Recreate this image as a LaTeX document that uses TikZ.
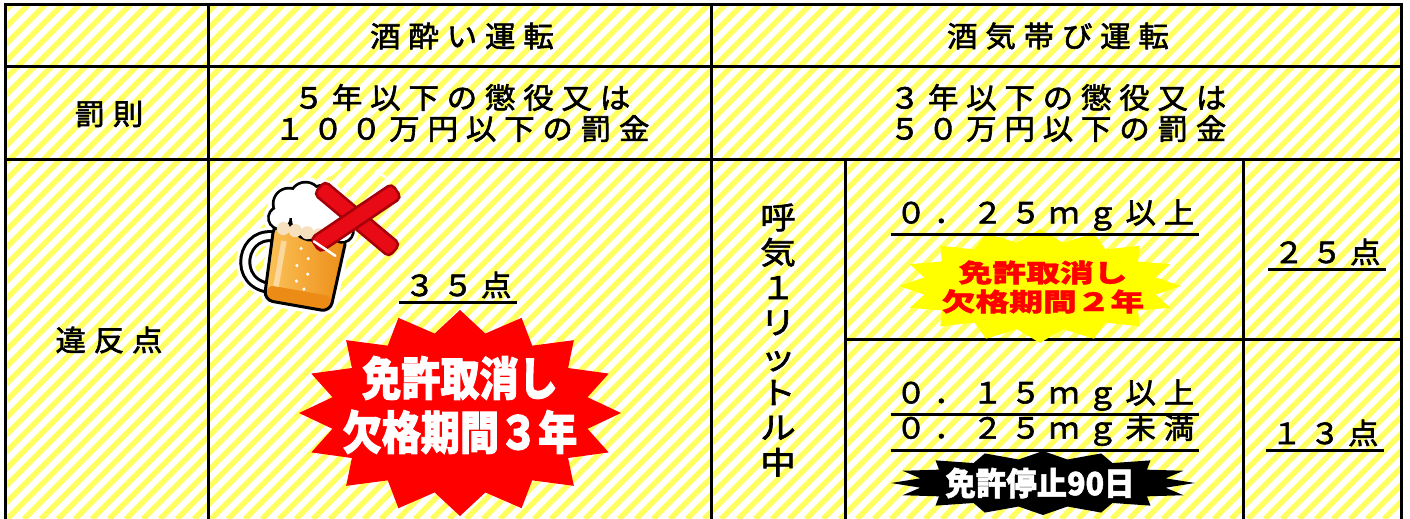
\documentclass[tikz,border=0pt]{standalone}
\usepackage{fontspec}
\setmainfont{Noto Sans CJK JP}
\newfontfamily\cellfont{Noto Sans CJK JP}[FakeStretch=1.05,LetterSpace=27,FakeBold=2]
\newfontfamily\breathfont{Noto Sans CJK JP}[FakeStretch=1.15,FakeBold=2]
\newfontfamily\tallfont{Noto Sans CJK JP}[FakeStretch=0.85,FakeBold=2]
\newfontfamily\widefont{Noto Sans CJK JP}[FakeStretch=1.35,FakeBold=1.5]
\newfontfamily\plainfont{Noto Sans CJK JP}[FakeStretch=0.95,FakeBold=1.5]
\usetikzlibrary{calc}

\definecolor{stripeyellow}{RGB}{255,255,95}
\definecolor{burstred}{RGB}{255,0,0}
\definecolor{burstyellow}{RGB}{255,255,0}
\definecolor{crossred}{RGB}{232,10,20}
\definecolor{crossdark}{RGB}{165,0,10}
\definecolor{beerlight}{RGB}{252,196,90}
\definecolor{beerdark}{RGB}{236,140,22}
\definecolor{foamcream}{RGB}{246,224,190}

% starburst: centre, outer rx, outer ry, inner rx, inner ry, points, style
\newcommand{\burst}[7]{%
  \fill[#7] ($#1+(0:#2pt and #3pt)$)
    \foreach \k in {1,...,#6} {
      -- ($#1+({(\k-0.5)*360/#6}:#4pt and #5pt)$)
      -- ($#1+({\k*360/#6}:#2pt and #3pt)$)
    } -- cycle;
}

\tikzset{
  tableline/.style={line width=3pt, line cap=rect},
  stripe/.style={stripeyellow, line width=5.5pt},
  celltext/.style={font=\cellfont\fontsize{29}{31}\selectfont, align=center, inner sep=0pt},
  ulinetext/.style={celltext, inner xsep=5pt, inner ysep=4pt},
  uline/.style={line width=3pt},
  breathtext/.style={font=\breathfont\fontsize{31}{35}\selectfont, align=center, inner sep=0pt},
  redbursttext/.style={font=\tallfont\bfseries\fontsize{46}{54}\selectfont, white, align=center, inner sep=0pt},
  yellowbursttext/.style={font=\widefont\bfseries\fontsize{25}{29}\selectfont, burstred, align=center, inner sep=0pt},
  blackbursttext/.style={font=\plainfont\bfseries\fontsize{32}{36}\selectfont, white, inner sep=0pt},
  xbar/.style={draw=crossdark, fill=crossred, line width=2.5pt, rounded corners=5pt,
    minimum width=98pt, minimum height=17pt, inner sep=0pt},
  xshine/.style={white, line width=2.5pt, line cap=round},
}

\begin{document}
\begin{tikzpicture}[x=1pt, y=-1pt]
  \useasboundingbox (0,0) rectangle (1410,519);
  \fill[white] (0,0) rectangle (1410,519);

  % striped background
  \begin{scope}
    \clip (5,5) rectangle (1401,519);
    \foreach \k in {-520,-503,...,1410}
      \draw[stripe] (\k,519) -- (\k+514,5);
  \end{scope}

  % table
  \draw[tableline] (5,519) -- (5,5) -- (1401,5) -- (1401,519);
  \draw[tableline] (208,5) -- (208,519);
  \draw[tableline] (711,5) -- (711,519);
  \draw[tableline] (5,67) -- (1401,67);
  \draw[tableline] (5,159) -- (1401,159);
  \draw[tableline] (845,159) -- (845,519);
  \draw[tableline] (1243,159) -- (1243,519);
  \draw[tableline] (845,339) -- (1401,339);

  % headers
  \node[celltext] (drunk) at (462,36) {酒酔い運転};
  \node[celltext] (tipsy) at (1058,36) {酒気帯び運転};
  \node[celltext] (penalty) at (109,114) {罰則};
  \node[celltext] (penaltydrunk) at (462,113) {５年以下の懲役又は\\１００万円以下の罰金};
  \node[celltext] (penaltytipsy) at (1058,113) {３年以下の懲役又は\\５０万円以下の罰金};
  \node[celltext] (points) at (109,340) {違反点};

  % beer mug
  \begin{scope}[shift={(296,252)}, rotate=-10, scale=1.1]
    \draw[white, line width=18pt] (-16,-10) .. controls (-54,-16) and (-54,42) .. (-14,36);
    \draw[white, line width=10pt, rounded corners=9pt] (-24,-22) -- (-21,48) -- (40,48) -- (43,-22) -- cycle;
    \foreach \c/\r in {(-14,-42)/13, (0,-50)/13, (16,-50)/13, (30,-40)/13, (-20,-28)/9, (38,-26)/9, (9,-32)/18}
      \fill[white] \c circle[radius=\r+6];
    \draw[black, line width=12pt] (-16,-10) .. controls (-54,-16) and (-54,42) .. (-14,36);
    \draw[white, line width=6pt] (-16,-10) .. controls (-54,-16) and (-54,42) .. (-14,36);
    \shade[left color=beerlight, right color=beerdark, rounded corners=9pt] (-24,-22) -- (-21,48) -- (40,48) -- (43,-22) -- cycle;
    \fill[beerdark, rounded corners=6pt] (-20,34) rectangle (39,47);
    \draw[black, line width=3pt, rounded corners=9pt] (-24,-22) -- (-21,48) -- (40,48) -- (43,-22) -- cycle;
    \fill[white, opacity=.45] (-15,-8) rectangle (-10,34);
    \foreach \p in {(4,-4),(12,4),(3,12),(14,18),(5,26),(13,32)}
      \fill[white] \p circle (1.6pt);
    \foreach \c/\r in {(-14,-42)/13, (0,-50)/13, (16,-50)/13, (30,-40)/13, (-20,-28)/9, (38,-26)/9, (9,-32)/18}
      \fill[black] \c circle[radius=\r+2.5];
    \foreach \c/\r in {(-14,-42)/13, (0,-50)/13, (16,-50)/13, (30,-40)/13, (-20,-28)/9, (38,-26)/9, (9,-32)/18}
      \fill[white] \c circle[radius=\r];
    \foreach \x in {-15,-4,7,18,29}
      \fill[foamcream] (\x,-19) circle[radius=6];
  \end{scope}

  % cross
  \node[xbar, rotate=-40] (xbarA) at (357,219) {};
  \node[xbar, rotate=34] (xbarB) at (356,218) {};
  \draw[xshine] (xbarA.north west) ++(-36:6) -- ++(-40:14);
  \draw[xshine] (xbarB.north east) ++(214:8) -- ++(214:12);
  \draw[xshine] (xbarB.north west) ++(34:6) -- ++(34:26);

  % drunk driving points
  \node[ulinetext] (pts35) at (458,285) {３５点};
  \burst{(460,413)}{161}{103}{130}{81}{16}{burstred}
  \node[redbursttext] (revoke3) at (460,405) {免許取消し\\欠格期間３年};

  % breath alcohol
  \node[breathtext] (breath) at (778,340) {呼\\気\\１\\リ\\ッ\\ト\\ル\\中};

  \node[ulinetext] (over25) at (1045,215) {０．２５ｍｇ以上};
  \burst{(1040,286)}{141}{57}{118}{44}{16}{burstyellow}
  \node[yellowbursttext] (revoke2) at (1043,287) {免許取消し\\欠格期間２年};
  \node[ulinetext] (pts25) at (1327,252) {２５点};

  \node[ulinetext] (over15) at (1045,395) {０．１５ｍｇ以上};
  \node[ulinetext] (under25) at (1045,430) {０．２５ｍｇ未満};
  \burst{(1043,483)}{152}{32}{125}{24}{16}{black}
  \node[blackbursttext] (suspend) at (1040,483) {免許停止90日};
  \node[ulinetext] (pts13) at (1325,433) {１３点};

  % underlines
  \foreach \n in {pts35,over25,pts25,over15,under25,pts13}
    \draw[uline] (\n.south west) -- (\n.south east);
\end{tikzpicture}
\end{document}
